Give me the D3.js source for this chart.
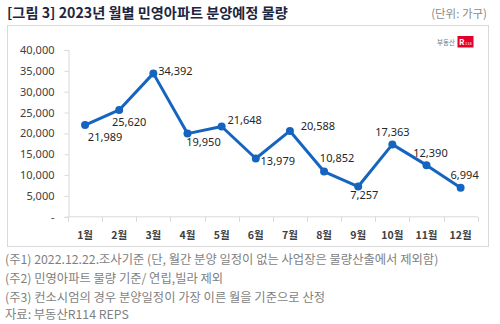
<!DOCTYPE html>
<html><head><meta charset="utf-8">
<script src="https://cdn.jsdelivr.net/npm/d3@7/dist/d3.min.js"></script>
<style>
body{margin:0;background:#fff;}
svg{display:block;font-family:"Noto Sans CJK KR","Noto Sans",sans-serif;}
</style></head>
<body>
<script>
const months = ["1월","2월","3월","4월","5월","6월","7월","8월","9월","10월","11월","12월"];
const values = [21989,25620,34392,19950,21648,13979,20588,10852,7257,17363,12390,6994];
const yTicks = [0,5000,10000,15000,20000,25000,30000,35000,40000];
const title = "[그림 3] 2023년 월별 민영아파트 분양예정 물량";
const unit = "(단위: 가구)";
const notes = ["(주1) 2022.12.22.조사기준 (단, 월간 분양 일정이 없는 사업장은 물량산출에서 제외함)",
  "(주2) 민영아파트 물량 기준/ 연립,빌라 제외",
  "(주3) 컨소시엄의 경우 분양일정이 가장 이른 월을 기준으로 산정",
  "자료: 부동산R114 REPS"];
// label offsets (style): [dx, dy] relative to point
const labelOffsets = [[20,12],[10,12],[22,-2],[16,9],[23,-6],[22,3],[28,-5],[13,-13],[6,9],[0,-12],[4,-12],[4,-12]];

const W=500,H=324;
const svg=d3.select("body").append("svg").attr("width",W).attr("height",H);

svg.append("text").attr("x",7).attr("y",18).attr("font-size",14.2).attr("font-weight",700)
  .attr("fill","#1c2640").text(title);
svg.append("text").attr("x",487).attr("y",18).attr("text-anchor","end").attr("font-size",11.5)
  .attr("fill","#8c8c8c").text(unit);

svg.append("rect").attr("x",7.5).attr("y",25.5).attr("width",481).attr("height",221)
  .attr("fill","#fff").attr("stroke","#d9d9d9").attr("stroke-width",1);

// logo
svg.append("text").attr("x",455).attr("y",45).attr("text-anchor","end").attr("font-size",6.5)
  .attr("fill","#777").text("부동산");
svg.append("rect").attr("x",457.5).attr("y",36).attr("width",16).attr("height",11.5).attr("fill","#e4002b");
svg.append("text").attr("x",459).attr("y",45).attr("font-size",8).attr("font-weight",700).attr("fill","#fff").text("R");
svg.append("text").attr("x",465).attr("y",44.5).attr("font-size",4).attr("fill","#fff").text("114");

const x=d3.scaleBand().domain(months).range([68,477.7]);
const y=d3.scaleLinear().domain([0,40000]).range([216.8,50]);

const fmt=d3.format(",");
const yAxis=d3.axisLeft(y).tickValues(yTicks).tickSize(4).tickPadding(10)
  .tickFormat(d=>d===0?"-":fmt(d));
const gy=svg.append("g").attr("transform","translate(68.5,0)").call(yAxis);
gy.selectAll("path,line").attr("stroke","#d9d9d9");
gy.selectAll("text").attr("font-size",11).attr("fill","#404040").attr("font-family","'Noto Sans',sans-serif");

const gx=svg.append("g").attr("transform","translate(0,216.8)");
gx.append("line").attr("x1",68).attr("x2",477.7).attr("stroke","#d9d9d9");
const bounds=months.map(m=>x(m)).concat([x.range()[1]]);
gx.selectAll("line.tk").data(bounds).enter().append("line").attr("class","tk")
  .attr("x1",d=>Math.round(d)+0.5).attr("x2",d=>Math.round(d)+0.5).attr("y1",0).attr("y2",5).attr("stroke","#d9d9d9");
gx.selectAll("text").data(months).enter().append("text")
  .attr("x",d=>x(d)+x.bandwidth()/2).attr("y",22).attr("text-anchor","middle")
  .attr("font-size",10.5).attr("font-weight",700).attr("fill","#404040").text(d=>d);

const cx=(d,i)=>x(months[i])+x.bandwidth()/2;
const line=d3.line().x(cx).y(d=>y(d));
svg.append("path").datum(values).attr("d",line).attr("fill","none")
  .attr("stroke","#1565c0").attr("stroke-width",3).attr("stroke-linejoin","round");
svg.selectAll("circle.pt").data(values).enter().append("circle")
  .attr("cx",cx).attr("cy",d=>y(d)).attr("r",4).attr("fill","#1565c0");
svg.selectAll("text.lbl").data(values).enter().append("text")
  .attr("x",(d,i)=>cx(d,i)+labelOffsets[i][0]).attr("y",(d,i)=>y(d)+labelOffsets[i][1])
  .attr("dy","0.35em").attr("text-anchor","middle").attr("font-size",11)
  .attr("font-family","'Noto Sans',sans-serif").attr("fill","#262626").text(d=>fmt(d));

notes.forEach((t,i)=>{
  svg.append("text").attr("x",5).attr("y",[264,283,302,319][i]).attr("font-size",12.3)
    .attr("fill","#7f7f7f").text(t);
});
</script>
</body></html>
